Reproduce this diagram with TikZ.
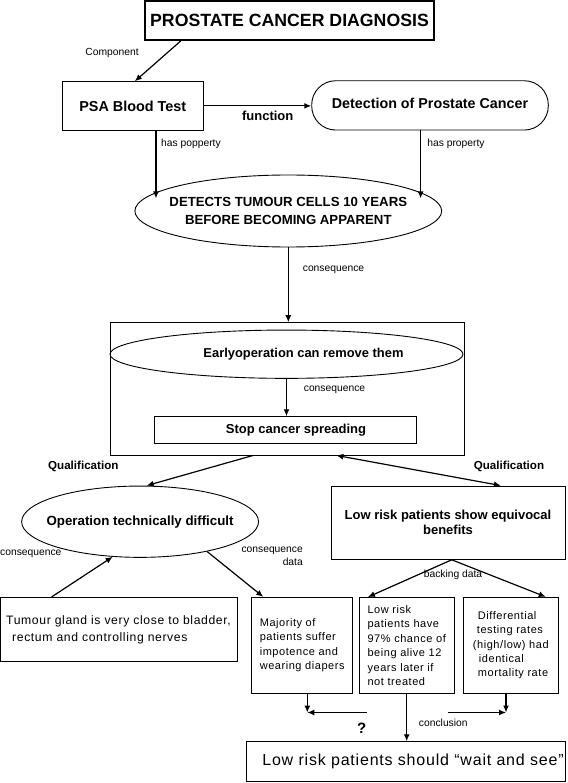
\documentclass[tikz,border=0pt]{standalone}
\usepackage{fontspec}
\setmainfont{Liberation Sans}
\newfontfamily\trackfont[LetterSpace=5]{Liberation Sans}
\usetikzlibrary{shapes.geometric,arrows.meta,calc}

\tikzset{
  conceptbox/.style={draw, line width=0.9pt, inner sep=0pt},
  conceptoval/.style={ellipse, draw, line width=0.9pt, inner xsep=-60pt, inner ysep=-30pt},
  relation/.style={-{Latex[length=7pt,width=6pt]}, line width=1.2pt},
  twoway/.style={{Latex[length=7pt,width=6pt]}-{Latex[length=7pt,width=6pt]}, line width=1.2pt},
  rellabel/.style={font=\fontsize{10.3}{13}\selectfont, inner sep=0pt},
  qualabel/.style={font=\bfseries\fontsize{11.6}{14}\selectfont, inner sep=0pt},
  datatext/.style={font=\trackfont\fontsize{11}{14.4}\selectfont, align=left},
}

\begin{document}
\begin{tikzpicture}[x=1pt, y=-1pt]
    \useasboundingbox (0,0) rectangle (567,783);

    % Top of the map
    \node[conceptbox, line width=1.3pt, minimum width=289pt, minimum height=39pt,
          font=\bfseries\fontsize{17.7}{20}\selectfont] (title) at (289.5,20.5) {PROSTATE CANCER DIAGNOSIS};
    \node[conceptbox, minimum width=141pt, minimum height=48.3pt,
          font=\bfseries\fontsize{14.4}{17}\selectfont] (psa) at (132.8,105.9) {PSA Blood Test};
    \node[conceptbox, rounded corners=24pt, minimum width=236.6pt, minimum height=49.3pt,
          font=\bfseries\fontsize{14.3}{17}\selectfont] (detection) at (430,105.4) {\raisebox{5pt}{Detection of Prostate Cancer}};
    \node[conceptoval, minimum width=306.8pt, minimum height=72pt, align=center,
          font=\bfseries\fontsize{13.2}{18.5}\selectfont] (tumour) at (288.3,211) {DETECTS TUMOUR CELLS 10 YEARS\\BEFORE BECOMING APPARENT};

    % Framed consequence
    \node[conceptbox, minimum width=354pt, minimum height=132.3pt] (frame) at (287,388.8) {};
    \node[conceptoval, minimum width=353pt, minimum height=48.3pt,
          font=\bfseries\fontsize{12.9}{15}\selectfont] (earlyop) at (286.5,354.2) {\hspace*{34pt}Earlyoperation can remove them};
    \node[conceptbox, minimum width=262pt, minimum height=26.6pt,
          font=\bfseries\fontsize{13}{15}\selectfont] (stop) at (285,430) {\hspace*{22pt}Stop cancer spreading};

    % Qualifications
    \node[conceptoval, minimum width=236.9pt, minimum height=71.3pt,
          font=\bfseries\fontsize{13.3}{15}\selectfont] (difficult) at (140.1,521.7) {Operation technically difficult};
    \node[conceptbox, minimum width=234.1pt, minimum height=73.3pt, align=center,
          font=\bfseries\fontsize{13}{15}\selectfont] (equivocal) at (448,522.7) {Low risk patients show equivocal\\benefits};

    % Data boxes
    \node[conceptbox, datatext, minimum width=237pt, minimum height=64.4pt,
          font=\trackfont\fontsize{12.2}{17}\selectfont] (gland) at (118.5,629.5) {Tumour gland is very close to bladder,\\\hspace*{6pt}rectum and controlling nerves};
    \node[conceptbox, datatext, minimum width=101pt, minimum height=96pt] (majority) at (302.2,645.3)
          {Majority of\\patients suffer\\impotence and\\wearing diapers};
    \node[conceptbox, datatext, minimum width=94.7pt, minimum height=96pt] (alive) at (406.7,645.5)
          {Low risk\\patients have\\97\% chance of\\being alive 12\\years later if\\not treated};
    \node[conceptbox, datatext, minimum width=95pt, minimum height=96pt] (differential) at (510.8,645.3)
          {\hspace*{5pt}Differential\\\hspace*{4pt}testing rates\\(high/low) had\\\hspace*{6pt}identical\\\hspace*{5pt}mortality rate};
    \node[conceptbox, minimum width=319pt, minimum height=40pt,
          font=\trackfont\fontsize{16}{18}\selectfont] (waitsee) at (405.5,761.7) {\hspace*{15pt}Low risk patients should “wait and see”};

    % Link labels
    \node[rellabel] (lcomp) at (112.1,53.3) {Component};
    \node[font=\bfseries\fontsize{13}{15}\selectfont, inner sep=0pt] (lfunc) at (267.7,116) {function};
    \node[rellabel] (lprop1) at (191,144.3) {has popperty};
    \node[rellabel] (lprop2) at (456,144.3) {has property};
    \node[rellabel] (lcons1) at (333.5,269.3) {consequence};
    \node[rellabel] (lcons2) at (334.5,390) {consequence};
    \node[qualabel] (lqual1) at (83.3,466.7) {Qualification};
    \node[qualabel] (lqual2) at (509,466.7) {Qualification};
    \node[rellabel, anchor=west] (lcons3) at (0,553.3) {consequence};
    \node[rellabel, align=right, anchor=east] (lcons4) at (303,556.5) {consequence\\data};
    \node[rellabel] (lback) at (453,575) {backing data};
    \node[font=\bfseries\fontsize{15}{17}\selectfont, inner sep=0pt] (lquest) at (361.7,728.3) {?};
    \node[rellabel] (lconc) at (443.3,723.3) {conclusion};

    % Free ends of the conclusion arrows
    \coordinate (joinL) at (307.3,712.5);
    \coordinate (joinR) at (506,712.5);
    \coordinate (gapL) at (366.7,712.5);
    \coordinate (gapR) at (448.3,712.5);

    % Arrows
    \draw[relation] ([xshift=36.7pt]title.south west) -- ([xshift=2pt]psa.north);
    \draw[relation] (psa.east) -- (psa.east -| detection.west);
    \draw[relation, shorten >=-6pt] (tumour.172 |- psa.south) -- (tumour.172);
    \draw[relation, shorten >=-6pt] (tumour.8 |- detection.south) -- (tumour.8);
    \draw[relation] (tumour.south) -- (tumour.south |- frame.north);
    \draw[relation] (earlyop.south) -- (earlyop.south |- stop.north);
    \draw[relation] ([xshift=-33.8pt]frame.south) -- ([xshift=6.6pt]difficult.north);
    \draw[twoway] ([xshift=49.3pt]frame.south) -- ([xshift=52.9pt]equivocal.north);
    \draw[relation] ([xshift=-66.8pt]gland.north) -- (difficult.-128);
    \draw[relation] (difficult.-24) -- ([xshift=12pt]majority.north west);
    \draw[relation] ([xshift=3.7pt]equivocal.south) -- ([xshift=9pt]alive.north west);
    \draw[relation] ([xshift=3.7pt]equivocal.south) -- ([xshift=-13pt]differential.north east);
    \draw[relation] (alive.south) -- (alive.south |- waitsee.north);
    \draw[relation] (joinL |- majority.south) -- (joinL);
    \draw[relation] (joinR |- differential.south) -- (joinR);
    \draw[relation] (gapL) -- (joinL);
    \draw[relation] (gapR) -- (joinR);
\end{tikzpicture}
\end{document}
